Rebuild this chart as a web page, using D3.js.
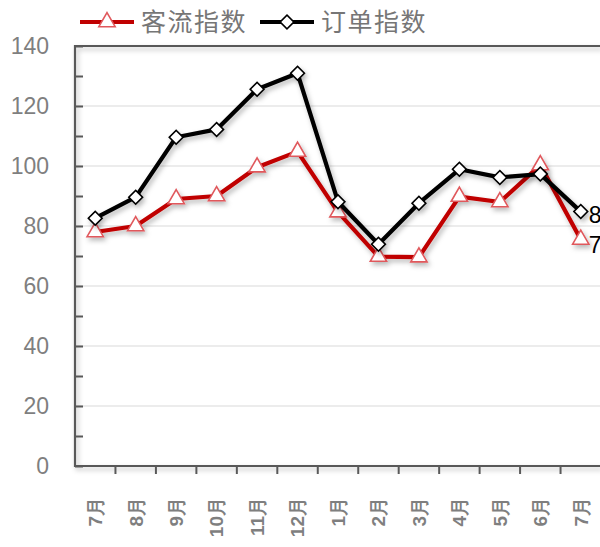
<!DOCTYPE html>
<html>
<head>
<meta charset="utf-8">
<script src="https://cdn.jsdelivr.net/npm/d3@7"></script>
<style>
  body { margin: 0; background: #fff; }
  svg { display: block; }
</style>
</head>
<body>
<div id="chart"></div>
<script>
// DATA

const months = ["7月", "8月", "9月", "10月", "11月", "12月", "1月", "2月", "3月", "4月", "5月", "6月", "7月"];
const guestIndex = [78, 80, 89, 90, 99.6, 104.8, 84.6, 69.8, 69.6, 89.8, 88, 100.3, 75.5];
const orderIndex = [82.6, 89.6, 109.6, 112.2, 125.6, 130.9, 88.1, 73.9, 87.6, 98.9, 96.2, 97.3, 84.8];
const yTicks = [0, 20, 40, 60, 80, 100, 120, 140];
const seriesNames = ["客流指数", "订单指数"];

// SETUP

const W = 600, H = 547;
const plot = { left: 75, top: 46, right: 601, bottom: 466 };
const grey = "#7f7f7f";

const svg = d3.select("#chart").append("svg")
    .attr("width", W)
    .attr("height", H);

const defs = svg.append("defs");
defs.append("filter")
    .attr("id", "shadow")
    .attr("x", "-20%").attr("y", "-20%")
    .attr("width", "140%").attr("height", "140%")
  .append("feDropShadow")
    .attr("dx", 2).attr("dy", 3)
    .attr("stdDeviation", 2.5)
    .attr("flood-color", "#000")
    .attr("flood-opacity", 0.28);

const x = d3.scaleBand()
    .domain(d3.range(months.length))
    .range([plot.left, plot.right]);

const y = d3.scaleLinear()
    .domain([0, 140])
    .range([plot.bottom, plot.top]);

const cx = i => x(i) + x.bandwidth() / 2;

// GRID LINES

svg.append("g")
  .selectAll("line")
  .data(yTicks.filter(d => d > 0 && d < 140))
  .join("line")
    .attr("x1", plot.left)
    .attr("x2", plot.right)
    .attr("y1", d => y(d))
    .attr("y2", d => y(d))
    .attr("stroke", "#d9d9d9")
    .attr("stroke-width", 1.2);

// FRAME (top, left, bottom) with shadow

svg.append("path")
    .attr("d", `M${plot.right},${plot.top}H${plot.left}V${plot.bottom}H${plot.right}`)
    .attr("fill", "none")
    .attr("stroke", "#595959")
    .attr("stroke-width", 2.2)
    .attr("filter", "url(#shadow)");

// Y AXIS

const yAxis = svg.append("g")
    .attr("transform", `translate(${plot.left},0)`)
    .call(d3.axisRight(y).ticks(14).tickSize(8).tickFormat(""));
yAxis.select(".domain").remove();
yAxis.selectAll("line").attr("stroke", "#595959").attr("stroke-width", 2);

svg.append("g")
  .selectAll("text")
  .data(yTicks)
  .join("text")
    .attr("x", 49)
    .attr("y", d => y(d))
    .attr("dy", "0.36em")
    .attr("text-anchor", "end")
    .style("font-family", '"Liberation Sans", Arial, sans-serif')
    .style("font-size", "23px")
    .style("fill", grey)
    .text(d => d);

// X AXIS

const xTickPos = d3.range(months.length + 1).map(i => plot.left + i * x.bandwidth());
svg.append("g")
  .selectAll("line")
  .data(xTickPos.slice(1))
  .join("line")
    .attr("x1", d => d).attr("x2", d => d)
    .attr("y1", plot.bottom).attr("y2", plot.bottom + 8)
    .attr("stroke", "#595959")
    .attr("stroke-width", 2);

svg.append("g")
  .selectAll("text")
  .data(months)
  .join("text")
    .attr("transform", (d, i) => `translate(${cx(i)},497) rotate(-90)`)
    .attr("dy", "0.36em")
    .attr("text-anchor", "end")
    .style("font-family", '"Liberation Sans", Arial, sans-serif')
    .style("font-size", "19px")
    .style("font-weight", "bold")
    .style("fill", grey)
    .text(d => d);

// LINES

const line = d3.line()
    .x((d, i) => cx(i))
    .y(d => y(d));

const triangle = d3.symbol().type(d3.symbolTriangle).size(115);
const diamond = d3.symbol().type(d3.symbolSquare).size(95);

function drawSeries(values, color, markerPath, markerStroke, markerRotate) {
  const g = svg.append("g").attr("filter", "url(#shadow)");
  g.append("path")
      .datum(values)
      .attr("d", line)
      .attr("fill", "none")
      .attr("stroke", color)
      .attr("stroke-width", 4.2)
      .attr("stroke-linejoin", "round");
  g.selectAll("path.mk")
    .data(values)
    .join("path")
      .attr("class", "mk")
      .attr("d", markerPath)
      .attr("transform", (d, i) => `translate(${cx(i)},${y(d)}) rotate(${markerRotate})`)
      .attr("fill", "#fff")
      .attr("stroke", markerStroke)
      .attr("stroke-width", 1.6);
}

drawSeries(guestIndex, "#c00000", triangle, "#e0585c", 0);
drawSeries(orderIndex, "#000000", diamond, "#000000", 45);

// END LABELS

const last = months.length - 1;
[[orderIndex, 3], [guestIndex, 5]].forEach(([vals, off]) => {
  svg.append("text")
      .attr("x", cx(last) + 8)
      .attr("y", y(vals[last]) + off)
      .attr("dy", "0.36em")
      .style("font-family", '"Liberation Sans", Arial, sans-serif')
      .style("font-size", "23px")
      .style("fill", "#000")
      .text(Math.round(vals[last]));
});

// LEGEND

const legend = [
  { name: seriesNames[0], color: "#c00000", marker: triangle, stroke: "#e0585c", rot: 0, x0: 80 },
  { name: seriesNames[1], color: "#000000", marker: diamond, stroke: "#000000", rot: 45, x0: 260 }
];
legend.forEach(l => {
  svg.append("line")
      .attr("x1", l.x0).attr("x2", l.x0 + 54)
      .attr("y1", 22).attr("y2", 22)
      .attr("stroke", l.color)
      .attr("stroke-width", 4.2);
  svg.append("path")
      .attr("d", l.marker)
      .attr("transform", `translate(${l.x0 + 27},22) rotate(${l.rot})`)
      .attr("fill", "#fff")
      .attr("stroke", l.stroke)
      .attr("stroke-width", 1.6);
  svg.append("text")
      .attr("x", l.x0 + 61)
      .attr("y", 22)
      .attr("dy", "0.36em")
      .style("font-family", '"Noto Sans CJK SC", sans-serif')
      .style("font-size", "25px")
      .style("letter-spacing", "1.5px")
      .style("fill", "#767676")
      .text(l.name);
});
</script>
</body>
</html>
